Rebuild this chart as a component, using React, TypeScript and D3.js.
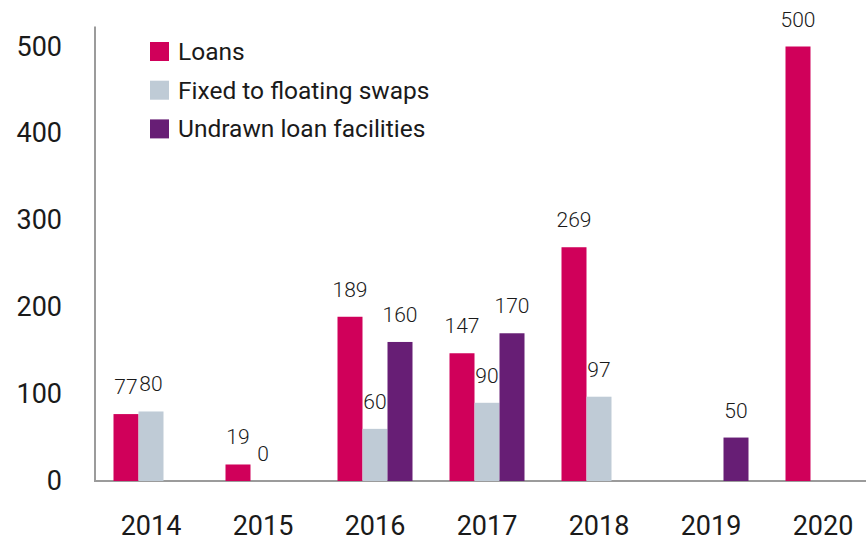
import React from "react";
import * as d3 from "d3";

const years = ["2014", "2015", "2016", "2017", "2018", "2019", "2020"];
const loans: (number | null)[] = [77, 19, 189, 147, 269, null, 500];
const swaps: (number | null)[] = [80, 0, 60, 90, 97, null, null];
const undrawn: (number | null)[] = [null, null, 160, 170, null, 50, null];
const seriesNames = ["Loans", "Fixed to floating swaps", "Undrawn loan facilities"];
const seriesColors = ["#D0005A", "#BFCBD6", "#671E75"];
const yTicks = [0, 100, 200, 300, 400, 500];

const W = 866;
const H = 542;
const FONT = "Roboto, 'Open Sans', sans-serif";

export default function App() {
  const series = [loans, swaps, undrawn];
  const x = d3.scaleBand<string>().domain(years).range([95, 879]).padding(0);
  const groupW = 75;
  const sub = d3
    .scaleBand<string>()
    .domain(["0", "1", "2"])
    .range([0, groupW])
    .padding(0);
  const y = d3.scaleLinear().domain([0, 500]).range([481, 46.5]);

  return (
    <svg
      width={W}
      height={H}
      style={{ display: "block", background: "#fff", position: "absolute", left: 0, top: 0 }}
    >
      {/* axes */}
      <line x1={95} x2={95} y1={y(523)} y2={y(0) + 1} stroke="#9b9b9b" strokeWidth={2} />
      <line x1={94} x2={W} y1={y(0)} y2={y(0)} stroke="#9b9b9b" strokeWidth={2} />
      {yTicks.map((t) => (
        <text
          key={t}
          x={62}
          y={y(t)}
          textAnchor="end"
          dominantBaseline="central"
          fontFamily={FONT}
          fontSize={27}
          fill="#1a1a1a"
        >
          {t}
        </text>
      ))}
      {years.map((yr) => (
        <text
          key={yr}
          x={(x(yr) as number) + x.bandwidth() / 2}
          y={535}
          textAnchor="middle"
          fontFamily={FONT}
          fontSize={27}
          fill="#1a1a1a"
        >
          {yr}
        </text>
      ))}
      {/* bars */}
      {series.map((s, si) =>
        s.map((v, i) => {
          if (v === null) return null;
          const gx = (x(years[i]) as number) + (x.bandwidth() - groupW) / 2;
          const bx = gx + (sub(String(si)) as number);
          const bw = sub.bandwidth();
          return (
            <g key={`${si}-${i}`}>
              <rect
                x={bx}
                y={y(v)}
                width={bw}
                height={y(0) - y(v)}
                fill={seriesColors[si]}
              />
              <text
                x={bx + bw / 2}
                y={y(v) - 20}
                textAnchor="middle"
                fontFamily={FONT}
                fontWeight={300}
                fontSize={21}
                fill="#1a1a1a"
              >
                {v}
              </text>
            </g>
          );
        })
      )}
      {/* legend */}
      {seriesNames.map((n, i) => (
        <g key={n} transform={`translate(150, ${42 + i * 38.7})`}>
          <rect x={0} y={0} width={19} height={19} fill={seriesColors[i]} />
          <text
            x={28}
            y={9.5}
            dominantBaseline="central"
            fontFamily={FONT}
            fontSize={24.5}
            fill="#1a1a1a"
          >
            {n}
          </text>
        </g>
      ))}
    </svg>
  );
}
